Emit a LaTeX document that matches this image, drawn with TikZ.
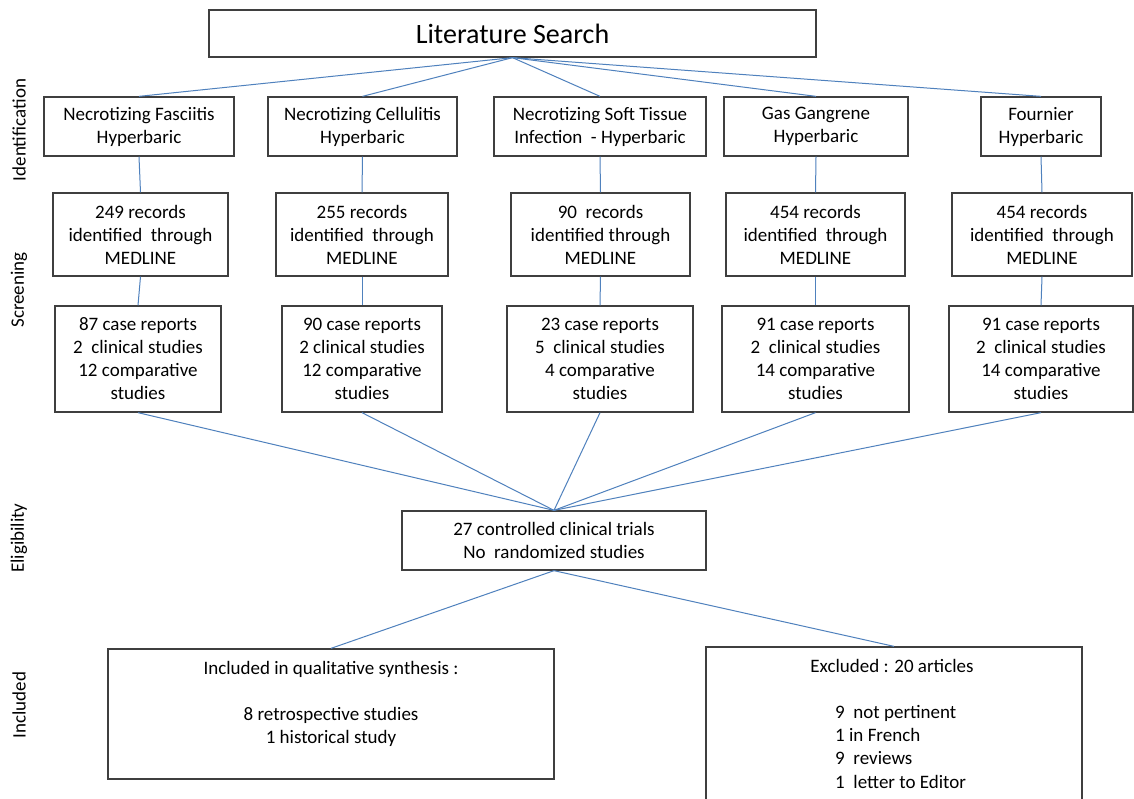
\documentclass[tikz,border=0pt]{standalone}
\usepackage{fontspec}
\setmainfont{Carlito}
\definecolor{boxgray}{HTML}{3F3F3F}
\definecolor{linkblue}{HTML}{4F81BD}
\begin{document}
\begin{tikzpicture}[x=1pt,y=-1pt,
  box/.style={draw=boxgray, line width=1.3pt, inner sep=0pt, align=center,
              font=\fontsize{19}{23}\selectfont, text=black},
  link/.style={draw=linkblue, line width=1pt},
  side/.style={rotate=90, font=\fontsize{19}{23}\selectfont, text=black},
  txt/.style={font=\fontsize{19}{23.3}\selectfont, text=black, inner sep=0pt}]
\useasboundingbox[fill=white] (0,0) rectangle (1134,798);

% side labels
\node[side] (lid) at (19,130) {Identification};
\node[side] (lsc) at (19,290) {Screening};
\node[side] (lel) at (19,538) {Eligibility};
\node[side] (lin) at (19,705) {Included};

% top
\node[box, minimum width=607pt, minimum height=47pt, font=\fontsize{28}{34}\selectfont] (lit) at (512.5,33.5) {Literature Search};

% row 1
\node[box, minimum width=190pt, minimum height=59pt] (a1) at (139,126.5) {Necrotizing Fasciitis\\Hyperbaric};
\node[box, minimum width=189pt, minimum height=59pt] (a2) at (362.5,126.5) {Necrotizing Cellulitis\\Hyperbaric};
\node[box, minimum width=212pt, minimum height=59pt] (a3) at (600,126.5) {Necrotizing Soft Tissue\\Infection\ \ - Hyperbaric};
\node[box, minimum width=184pt, minimum height=59pt] (a4) at (816,126.5) {Gas Gangrene\\Hyperbaric};
\node[box, minimum width=120pt, minimum height=59pt] (a5) at (1041,126.5) {Fournier\\Hyperbaric};

% row 2
\node[box, minimum width=175pt, minimum height=83pt] (b1) at (140.5,234.5) {249 records\\identified\ \ through\\MEDLINE};
\node[box, minimum width=172pt, minimum height=83pt] (b2) at (362,234.5) {255 records\\identified\ \ through\\MEDLINE};
\node[box, minimum width=179pt, minimum height=83pt] (b3) at (600.5,234.5) {90\ \ records\\identified through\\MEDLINE};
\node[box, minimum width=179pt, minimum height=83pt] (b4) at (815.5,234.5) {454 records\\identified\ \ through\\MEDLINE};
\node[box, minimum width=180pt, minimum height=83pt] (b5) at (1042,234.5) {454 records\\identified\ \ through\\MEDLINE};

% row 3
\node[box, minimum width=166pt, minimum height=106pt] (c1) at (138,359) {87 case reports\\2\ \ clinical studies\\12 comparative\\studies};
\node[box, minimum width=160pt, minimum height=106pt] (c2) at (362,359) {90 case reports\\2 clinical studies\\12 comparative\\studies};
\node[box, minimum width=186pt, minimum height=106pt] (c3) at (600,359) {23 case reports\\5\ \ clinical studies\\4 comparative\\studies};
\node[box, minimum width=187pt, minimum height=106pt] (c4) at (815.5,359) {91 case reports\\2\ \ clinical studies\\14 comparative\\studies};
\node[box, minimum width=184pt, minimum height=106pt] (c5) at (1041,359) {91 case reports\\2\ \ clinical studies\\14 comparative\\studies};

% eligibility
\node[box, minimum width=304pt, minimum height=59pt] (el) at (554,540.5) {27 controlled clinical trials\\No\ \ randomized studies};

% included / excluded
\node[box, minimum width=446pt, minimum height=130pt] (inc) at (331,714) {Included in qualitative synthesis :\\[23pt]8 retrospective studies\\1 historical study\\ };
\node[box, minimum width=376pt, minimum height=163pt] (exc) at (894,728.5) {};
\node[txt, anchor=base] (exct) at (892,672) {Excluded : 20 articles};
\node[txt, anchor=north west, align=left] (excl) at (835,705) {9\ \ not pertinent\\1 in French\\9\ \ reviews\\1\ \ letter to Editor};

% connectors
\foreach \n in {a1,a2,a3,a4,a5} \draw[link] (lit.south) -- (\n.north);
\draw[link] (a1.south) -- (b1.north);
\draw[link] (a2.south) -- (b2.north);
\draw[link] (a3.south) -- (b3.north);
\draw[link] (a4.south) -- (b4.north);
\draw[link] (a5.south) -- (b5.north);
\draw[link] (b1.south) -- (c1.north);
\draw[link] (b2.south) -- (c2.north);
\draw[link] (b3.south) -- (c3.north);
\draw[link] (b4.south) -- (c4.north);
\draw[link] (b5.south) -- (c5.north);
\foreach \n in {c1,c2,c3,c4,c5} \draw[link] (\n.south) -- (el.north);
\draw[link] (el.south) -- (inc.north);
\draw[link] (el.south) -- (exc.north);
\end{tikzpicture}
\end{document}
